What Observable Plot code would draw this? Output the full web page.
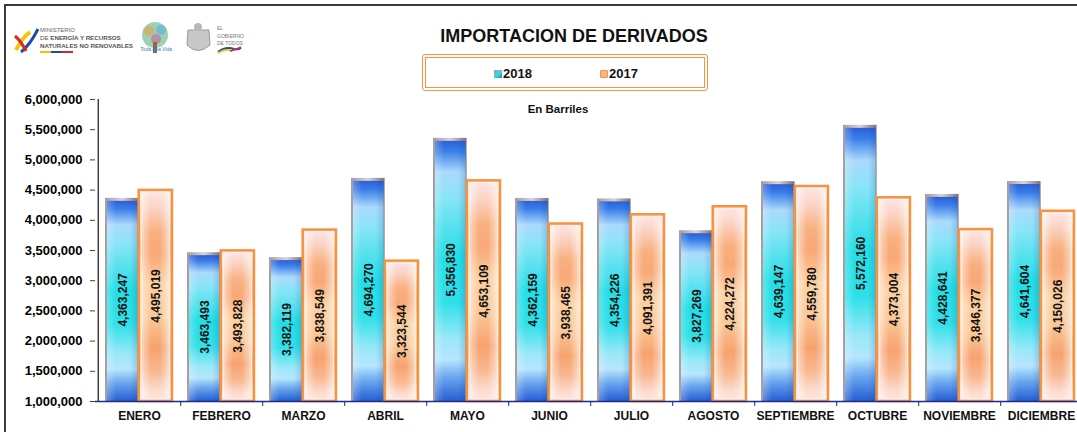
<!DOCTYPE html>
<html>
<head>
<meta charset="utf-8">
<script src="https://cdn.jsdelivr.net/npm/d3@7"></script>
<script src="https://cdn.jsdelivr.net/npm/@observablehq/plot@0.6"></script>
<style>
  body { margin: 0; background: #fff; font-family: "Liberation Sans", Arial, sans-serif; }
  #wrap { position: relative; width: 1077px; height: 432px; overflow: hidden; background: #fff; }
  #frame { position: absolute; left: 4px; top: 4px; width: 1200px; height: 600px; border-top: 2px solid #3c3c3c; border-left: 2px solid #3c3c3c; }
  #chart { position: absolute; left: 0; top: 0; width: 1084px; height: 432px; }
  #chart svg { max-width: none !important; }
  #title { position: absolute; left: 0; width: 1148px; top: 26px; text-align: center; font-weight: bold; font-size: 18px; color: #111; }
  #legend { position: absolute; left: 422px; top: 54px; width: 286px; height: 37px; box-sizing: border-box; border: 4px double #f7923f; border-radius: 3px; background: #fff; }
  .leg { position: absolute; top: 9px; font-weight: bold; font-size: 13px; color: #111; line-height: 14px; }
  .sw { display: inline-block; width: 8px; height: 8px; margin-right: 1px; vertical-align: 0px; }
  #sub { position: absolute; left: 458px; width: 200px; top: 103px; text-align: center; font-weight: bold; font-size: 11.5px; color: #111; }
  #logos { position: absolute; left: 0; top: 0; }
</style>
</head>
<body>
<svg width="0" height="0" style="position:absolute">
  <defs>
    <linearGradient id="blueV" x1="0" y1="0" x2="0" y2="1">
      <stop offset="0" stop-color="#2a60d6"/>
      <stop offset="0.04" stop-color="#3a7fe9"/>
      <stop offset="0.12" stop-color="#abdafc"/>
      <stop offset="0.22" stop-color="#86e5f6"/>
      <stop offset="0.45" stop-color="#22dee6"/>
      <stop offset="0.62" stop-color="#2fe0e9"/>
      <stop offset="0.76" stop-color="#98e8f8"/>
      <stop offset="0.84" stop-color="#b6e6fd"/>
      <stop offset="0.91" stop-color="#6aa6ee"/>
      <stop offset="1" stop-color="#245ed2"/>
    </linearGradient>
    <linearGradient id="blueH" x1="0" y1="0" x2="1" y2="0">
      <stop offset="0" stop-color="#ffffff" stop-opacity="0.25"/>
      <stop offset="0.3" stop-color="#ffffff" stop-opacity="0"/>
      <stop offset="0.75" stop-color="#1040a0" stop-opacity="0"/>
      <stop offset="1" stop-color="#1040a0" stop-opacity="0.18"/>
    </linearGradient>
    <linearGradient id="shadow" x1="0" y1="0" x2="1" y2="0">
      <stop offset="0" stop-color="#a59a9c"/>
      <stop offset="0.5" stop-color="#dcd2d3"/>
      <stop offset="1" stop-color="#7a7475"/>
    </linearGradient>
    <linearGradient id="orangeV" x1="0" y1="0" x2="0" y2="1">
      <stop offset="0" stop-color="#fde6e6"/>
      <stop offset="0.08" stop-color="#fbd5c6"/>
      <stop offset="0.2" stop-color="#f8b07f"/>
      <stop offset="0.3" stop-color="#f9a877"/>
      <stop offset="0.45" stop-color="#fbcf9f"/>
      <stop offset="0.6" stop-color="#fac796"/>
      <stop offset="0.75" stop-color="#f7a26f"/>
      <stop offset="0.86" stop-color="#f8b890"/>
      <stop offset="0.95" stop-color="#fcdccf"/>
      <stop offset="1" stop-color="#fde4dc"/>
    </linearGradient>
    <linearGradient id="orangeH" x1="0" y1="0" x2="1" y2="0">
      <stop offset="0" stop-color="#ffffff" stop-opacity="0.6"/>
      <stop offset="0.15" stop-color="#ffffff" stop-opacity="0.3"/>
      <stop offset="0.35" stop-color="#ffffff" stop-opacity="0"/>
      <stop offset="0.65" stop-color="#ffffff" stop-opacity="0"/>
      <stop offset="0.85" stop-color="#ffffff" stop-opacity="0.3"/>
      <stop offset="1" stop-color="#ffffff" stop-opacity="0.6"/>
    </linearGradient>
  </defs>
</svg>

<div id="wrap">
  <div id="frame"></div>
  <div id="chart"></div>
  <svg id="logos" width="260" height="60">
    <path d="M16,50 Q22,38 30,32" stroke="#f5c400" stroke-width="4" fill="none"/>
    <path d="M21,52 Q30,45 38,29" stroke="#1c4fa6" stroke-width="3" fill="none"/>
    <path d="M15,36 Q21,41 26,51" stroke="#d8262c" stroke-width="3" fill="none"/>
    <text x="40" y="32" font-size="6" fill="#666">MINISTERIO</text>
    <text x="40" y="40" font-size="6.2" fill="#555"><tspan>DE </tspan><tspan font-weight="bold">ENERGÍA Y RECURSOS</tspan></text>
    <text x="40" y="47.5" font-size="6.2" font-weight="bold" fill="#555">NATURALES NO RENOVABLES</text>
    <rect x="40" y="51" width="11" height="2" fill="#f5c400"/>
    <rect x="51" y="51" width="11" height="2" fill="#1c4fa6"/>
    <rect x="62" y="51" width="11" height="2" fill="#d8262c"/>
    <circle cx="155" cy="35" r="13" fill="#8cc8a8" opacity="0.85"/>
    <circle cx="149" cy="31" r="5" fill="#e8a040" opacity="0.6"/>
    <circle cx="161" cy="30" r="5" fill="#5ab0e0" opacity="0.6"/>
    <circle cx="156" cy="39" r="5" fill="#d05090" opacity="0.5"/>
    <rect x="153" y="42" width="4" height="11" fill="#8a6a4a"/>
    <text x="140" y="51" font-size="5" font-style="italic" fill="#2a80c0">Toda una Vida</text>
    <path d="M188,30 L209,30 L210,45 Q198,56 187,45 Z" fill="#c8c8c8" stroke="#999" stroke-width="1"/>
    <circle cx="198" cy="27" r="4" fill="#b8b8b8"/>
    <text x="217" y="30" font-size="5" fill="#777">EL</text>
    <text x="217" y="38" font-size="5" fill="#777">GOBIERNO</text>
    <text x="217" y="45" font-size="5" fill="#777">DE TODOS</text>
    <path d="M218,52 Q226,46 234,49 Q238,50 241,48" stroke="#1c4fa6" stroke-width="2" fill="none"/>
    <path d="M218,53 Q226,48 232,51" stroke="#f5c400" stroke-width="1.5" fill="none"/>
    <path d="M230,51 Q236,50 241,47" stroke="#d8262c" stroke-width="1.5" fill="none"/>
  </svg>
  <div id="title">IMPORTACION DE DERIVADOS</div>
  <div id="legend">
    <div class="leg" style="left:68px"><span class="sw" style="background:linear-gradient(135deg,#a0a0a0,#3fd6e0 55%,#2a7ad8)"></span>2018</div>
    <div class="leg" style="left:174px"><span class="sw" style="background:#f9b486;border:1.5px solid #f7923f;width:6px;height:6px;border-radius:1px"></span>2017</div>
  </div>
  <div id="sub">En Barriles</div>
</div>

<script>
const months = ["ENERO", "FEBRERO", "MARZO", "ABRIL", "MAYO", "JUNIO", "JULIO", "AGOSTO", "SEPTIEMBRE", "OCTUBRE", "NOVIEMBRE", "DICIEMBRE"];
const barrels2018 = [4363247, 3463493, 3382119, 4694270, 5356830, 4362159, 4354226, 3827269, 4639147, 5572160, 4428641, 4641604];
const barrels2017 = [4495019, 3493828, 3838549, 3323544, 4653109, 3938465, 4091391, 4224272, 4559780, 4373004, 3846377, 4150026];
const yTicks = [1000000, 1500000, 2000000, 2500000, 3000000, 3500000, 4000000, 4500000, 5000000, 5500000, 6000000];
const yBase = 1000000;

const rows = months.map((m, i) => ({ month: m, v2018: barrels2018[i], v2017: barrels2017[i] }));
const fmt = d3.format(",");
const step = (1084 - 95) / months.length;

const chart = Plot.plot({
  width: 1084,
  height: 432,
  marginLeft: 95,
  marginRight: 0,
  marginTop: 99,
  marginBottom: 31,
  style: { fontFamily: "'Liberation Sans', Arial, sans-serif", background: "transparent", color: "#000", maxWidth: "none" },
  x: { domain: months, padding: 0, axis: null },
  y: { domain: [yTicks[0], yTicks[yTicks.length - 1]], axis: null },
  marks: [
    Plot.barY(rows, { x: "month", y1: yBase, y2: "v2018", fill: "url(#shadow)", insetLeft: 7, insetRight: step - 41 }),
    Plot.barY(rows, { x: "month", y1: yBase, y2: "v2018", fill: "url(#blueV)", insetLeft: 9, insetRight: step - 40, insetTop: 3 }),
    Plot.barY(rows, { x: "month", y1: yBase, y2: "v2018", fill: "url(#blueH)", insetLeft: 9, insetRight: step - 40, insetTop: 3 }),
    Plot.barY(rows, { x: "month", y1: yBase, y2: "v2017", fill: "url(#orangeV)", stroke: "#f7923f", strokeWidth: 2.5, insetLeft: 40.7, insetRight: step - 74.4 }),
    Plot.barY(rows, { x: "month", y1: yBase, y2: "v2017", fill: "url(#orangeH)", stroke: "#fff4ec", strokeWidth: 1, insetLeft: 43, insetRight: step - 72.1, insetTop: 2.3, insetBottom: 2.3 }),
    Plot.text(rows, { x: "month", y: d => (d.v2018 + yBase) / 2, text: d => fmt(d.v2018), rotate: -90, dx: -16.7, fontSize: 12, fontWeight: "bold", fill: "#111" }),
    Plot.text(rows, { x: "month", y: d => (d.v2017 + yBase) / 2, text: d => fmt(d.v2017), rotate: -90, dx: 16.3, fontSize: 12, fontWeight: "bold", fill: "#111" }),
    Plot.ruleX([months[0]], { dx: -step / 2, y1: yTicks[0], y2: yTicks[yTicks.length - 1], stroke: "#404040", strokeWidth: 1.5 }),
    Plot.axisY({ ticks: yTicks, tickFormat: fmt, tickSize: 5, tickPadding: 8, fontSize: 13, fontWeight: "bold", stroke: "#404040", label: null }),
    Plot.ruleY([yBase], { stroke: "#1f2a8c", strokeWidth: 1.5 }),
    Plot.axisX({ ticks: months, tickFormat: () => "", tickSize: 5, dx: step / 2, stroke: "#1f2a8c", label: null }),
    Plot.axisX({ ticks: months, tickSize: 0, tickPadding: 10, fontSize: 12, fontWeight: "bold", fill: "#111", label: null })
  ]
});
document.getElementById("chart").appendChild(chart);
</script>
</body>
</html>
